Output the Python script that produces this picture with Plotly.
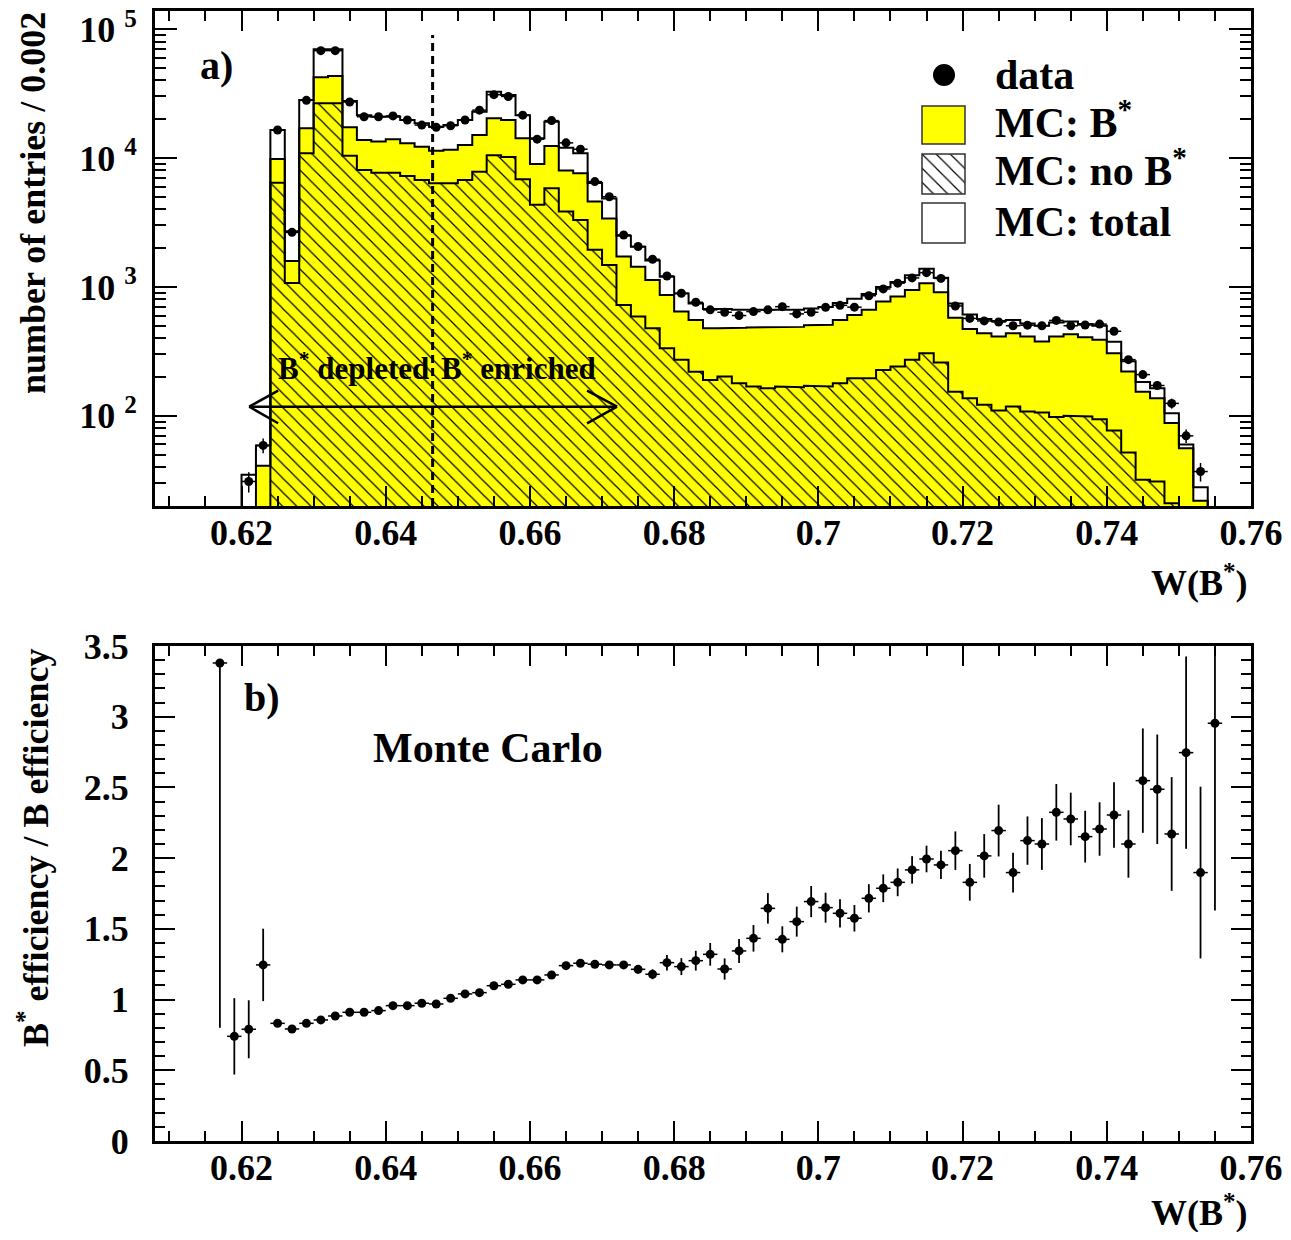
import numpy as np
import plotly.graph_objects as go

W, H = 1291, 1240
OFF = 8                      # default page margin of the html body
FW, FH = W - 2 * OFF, H - 2 * OFF

# ---------------- top panel data (bins of width 0.002 starting at 0.620) ----------------
bin_lo = 0.620
bin_w = 0.002

data_counts = [31, 59, 16500, 2650, 28000, 68000, 68000, 27200, 20900, 20900,
               21200, 19700, 18000, 17300, 17800, 19700, 23500, 31000, 30000, 21500,
               14000, 19500, 13100, 11700, 6560, 5010, 2530, 2060, 1640, 1215,
               893, 760, 664, 636, 600, 644, 664, 703, 618, 636,
               695, 720, 697, 855, 965, 1070, 1175, 1290, 1165, 712,
               570, 545, 535, 500, 505, 500, 550, 500, 507, 515,
               453, 273, 209, 172, 125, 70, 37]

mc_total = [35, 59, 16500, 2700, 28200, 69700, 69700, 27700, 21500, 20900,
            21000, 19700, 18600, 17500, 18000, 19700, 22800, 32700, 30800, 21500,
            14200, 19100, 12000, 10900, 6400, 4850, 2490, 2050, 1600, 1200,
            890, 745, 675, 675, 665, 665, 660, 665, 665, 680,
            700, 750, 810, 880, 1000, 1090, 1230, 1385, 1180, 745,
            610, 565, 545, 555, 520, 500, 530, 540, 515, 500,
            375, 265, 183, 164, 105, 60, 28]

mc_bstar = [15, 41, 9800, 1590, 17000, 42300, 43300, 17300, 13800, 13400,
            14000, 13000, 12200, 11400, 11600, 12600, 15100, 20300, 19700, 14200,
            9000, 12400, 8000, 7600, 4590, 3400, 1720, 1435, 1130, 867,
            644, 555, 478, 478, 482, 485, 487, 487, 490, 505,
            508, 554, 607, 664, 770, 842, 948, 1067, 910, 578,
            472, 437, 412, 437, 412, 377, 412, 430, 407, 389,
            306, 221, 154, 137, 88, 56, 22]

mc_nobstar = [18, 18, 6440, 1075, 10900, 26600, 26600, 10400, 8070, 7690,
              7700, 7250, 6760, 6370, 6370, 6760, 7830, 10500, 10200, 6840,
              4330, 5820, 3840, 3300, 1940, 1480, 725, 589, 479, 335,
              272, 220, 190, 202, 179, 169, 164, 169, 167, 171,
              169, 179, 196, 196, 227, 241, 272, 306, 259, 154,
              137, 122, 110, 118, 108, 106, 98, 100, 99, 94,
              77, 52, 32, 31, 21, 12, 5]

# ---------------- bottom panel data (points every 0.002 starting at 0.617) ----------------
ratio_x0 = 0.617
ratio = [3.38, 0.74, 0.79, 1.245, 0.832, 0.792, 0.832, 0.856, 0.884, 0.91,
         0.91, 0.922, 0.957, 0.957, 0.974, 0.969, 1.009, 1.04, 1.049, 1.098,
         1.108, 1.139, 1.139, 1.174, 1.24, 1.257, 1.25, 1.245, 1.245, 1.214,
         1.179, 1.261, 1.233, 1.275, 1.32, 1.216, 1.344, 1.433, 1.645, 1.426,
         1.551, 1.693, 1.65, 1.61, 1.575, 1.716, 1.787, 1.829, 1.917, 1.994,
         1.952, 2.053, 1.829, 2.016, 2.195, 1.898, 2.124, 2.1, 2.324, 2.277,
         2.152, 2.206, 2.305, 2.1, 2.548, 2.487, 2.171, 2.746, 1.898, 2.954]
ratio_err_up = [0.0, 0.27, 0.205, 0.256, 0.015, 0.012, 0.011, 0.011, 0.011, 0.011,
                0.011, 0.011, 0.011, 0.011, 0.012, 0.012, 0.012, 0.013, 0.013, 0.013,
                0.014, 0.015, 0.016, 0.016, 0.018, 0.018, 0.02, 0.022, 0.025, 0.03,
                0.035, 0.055, 0.06, 0.07, 0.08, 0.075, 0.085, 0.094, 0.108, 0.092,
                0.106, 0.11, 0.106, 0.1, 0.094, 0.1, 0.098, 0.098, 0.097, 0.094,
                0.1, 0.136, 0.13, 0.154, 0.183, 0.141, 0.171, 0.183, 0.2, 0.186,
                0.183, 0.189, 0.231, 0.238, 0.369, 0.387, 0.402, 0.68, 0.607, 1.325]
ratio_err_dn = [2.58] + ratio_err_up[1:]

x_tick_vals = [0.62, 0.64, 0.66, 0.68, 0.70, 0.72, 0.74, 0.76]
x_tick_text = ["0.62", "0.64", "0.66", "0.68", "0.7", "0.72", "0.74", "0.76"]
y_log_vals = [100, 1000, 10000, 100000]
y_log_text = ["10 <sup>2</sup>", "10 <sup>3</sup>", "10 <sup>4</sup>", "10 <sup>5</sup>"]
cut_value = 0.6465

# ---------------- derived geometry ----------------
nb = len(data_counts)
edges = np.round(bin_lo + bin_w * np.arange(nb + 1), 4)
centers = np.round(edges[:-1] + bin_w / 2, 4)
rx = np.round(ratio_x0 + bin_w * np.arange(len(ratio)), 4)

FONT = "Liberation Serif"


def step_xy(vals, floor=1.0):
    xs, ys = [edges[0]], [floor]
    for i, v in enumerate(vals):
        xs += [edges[i], edges[i + 1]]
        ys += [v, v]
    xs.append(edges[-1])
    ys.append(floor)
    return xs, ys


fig = go.Figure()

hatch = dict(shape="\\", fgcolor="black", bgcolor="rgba(0,0,0,0)", size=10, solidity=0.12,
             fillmode="replace")

# yellow B* fill
fig.add_trace(go.Bar(x=centers, y=mc_bstar, width=bin_w, xaxis="x", yaxis="y",
                     marker=dict(color="#ffff00", line=dict(width=0)), showlegend=False))
# hatched no-B* fill
fig.add_trace(go.Bar(x=centers, y=mc_nobstar, width=bin_w, xaxis="x", yaxis="y",
                     marker=dict(color="rgba(0,0,0,0)", line=dict(width=0), pattern=hatch),
                     showlegend=False))
# outlines
for vals in (mc_total, mc_bstar, mc_nobstar):
    sx, sy = step_xy(vals)
    fig.add_trace(go.Scatter(x=sx, y=sy, mode="lines", xaxis="x", yaxis="y",
                             line=dict(color="black", width=2), showlegend=False, hoverinfo="skip"))
# data points
fig.add_trace(go.Scatter(x=centers, y=data_counts, mode="markers", xaxis="x", yaxis="y",
                         marker=dict(color="black", size=9),
                         error_x=dict(type="constant", value=bin_w / 2, width=0, thickness=1.5, color="black"),
                         error_y=dict(type="data", array=np.sqrt(np.array(data_counts, float)),
                                      width=0, thickness=1.5, color="black"),
                         showlegend=False))

# ratio points
fig.add_trace(go.Scatter(x=rx, y=ratio, mode="markers", xaxis="x2", yaxis="y2",
                         marker=dict(color="black", size=9),
                         error_x=dict(type="constant", value=bin_w / 2, width=0, thickness=1.5, color="black"),
                         error_y=dict(type="data", symmetric=False, array=ratio_err_up,
                                      arrayminus=ratio_err_dn, width=0, thickness=1.8, color="black"),
                         showlegend=False))

# hatched legend swatch (own small axes)
fig.add_trace(go.Bar(x=[0.5], y=[1], width=1, base=0, xaxis="x3", yaxis="y3",
                     marker=dict(color="rgba(0,0,0,0)", line=dict(width=0), pattern=hatch),
                     showlegend=False))


def px(x):
    return (x - OFF) / FW


def py(y):
    return 1 - (y - OFF) / FH


top_dom = [py(506), py(11)]
bot_dom = [py(1141), py(646)]
x_dom = [px(155), px(1251)]

axis_common = dict(showline=True, linewidth=3, linecolor="black", mirror="ticks",
                   ticks="inside", tickwidth=2, tickcolor="black", showgrid=False, zeroline=False,
                   automargin=False, ticklabeloverflow="allow",
                   tickfont=dict(family=FONT, size=36, color="black", weight="bold"))

xa = dict(axis_common, range=[0.608, 0.76], domain=x_dom, tickmode="array",
          tickvals=x_tick_vals, ticktext=x_tick_text, ticklen=20, ticklabelstandoff=-7,
          minor=dict(tickmode="linear", tick0=0.6, dtick=0.005, ticks="inside", ticklen=10,
                     tickwidth=2, tickcolor="black"))

fig.update_layout(
    width=FW, height=FH,
    margin=dict(l=0, r=0, t=0, b=0, autoexpand=False),
    paper_bgcolor="white", plot_bgcolor="white",
    barmode="overlay", bargap=0,
    font=dict(family=FONT, size=36, color="black", weight="bold"),
    xaxis=dict(xa, anchor="y"),
    yaxis=dict(axis_common, type="log", range=[np.log10(20), 5.14], domain=top_dom, anchor="x",
               tickmode="array", tickvals=y_log_vals, ticktext=y_log_text, ticklen=22,
               ticklabelstandoff=8,
               minor=dict(dtick="D1", ticks="inside", ticklen=11, tickwidth=2, tickcolor="black")),
    xaxis2=dict(xa, anchor="y2"),
    yaxis2=dict(axis_common, range=[0, 3.5], domain=bot_dom, anchor="x2", tickmode="linear",
                tick0=0, dtick=0.5, ticklen=20, ticklabelstandoff=16,
                minor=dict(tickmode="linear", tick0=0, dtick=0.1, ticks="inside", ticklen=10,
                           tickwidth=2, tickcolor="black")),
    xaxis3=dict(domain=[px(922), px(965)], range=[0, 1], visible=False, anchor="y3"),
    yaxis3=dict(domain=[py(194), py(154)], range=[0, 1], visible=False, anchor="x3"),
)

shapes = []
# cut line
shapes.append(dict(type="line", xref="x", yref="y domain", x0=cut_value, x1=cut_value,
                   y0=0, y1=0.9515, line=dict(color="black", width=3, dash="8px,5px")))
# double arrow
ya, yu, yd = 0.2006, 0.2329, 0.1671
xl, xl2, xr, xr2 = 0.62106, 0.62508, 0.67208, 0.66792
for (x0, y0, x1, y1) in [(xl, ya, xr, ya), (xl, ya, xl2, yu), (xl, ya, xl2, yd),
                         (xr, ya, xr2, yu), (xr, ya, xr2, yd)]:
    shapes.append(dict(type="line", xref="x", yref="y domain", x0=x0, y0=y0, x1=x1, y1=y1,
                       line=dict(color="black", width=2.5)))
# legend symbols
shapes.append(dict(type="circle", xref="paper", yref="paper", x0=px(933), x1=px(955),
                   y0=py(86), y1=py(64), fillcolor="black", line=dict(width=0)))
shapes.append(dict(type="rect", xref="paper", yref="paper", x0=px(922), x1=px(965),
                   y0=py(144), y1=py(106), fillcolor="#ffff00", line=dict(color="#333", width=1.5)))
shapes.append(dict(type="rect", xref="paper", yref="paper", x0=px(922), x1=px(965),
                   y0=py(194), y1=py(154), fillcolor="rgba(0,0,0,0)", line=dict(color="#333", width=1.5)))
shapes.append(dict(type="rect", xref="paper", yref="paper", x0=px(922), x1=px(965),
                   y0=py(243), y1=py(203), fillcolor="white", line=dict(color="#333", width=1.5)))
fig.update_layout(shapes=shapes)


def ann(text, x, y, size, xanchor="left", yanchor="middle", angle=0):
    return dict(text=text, x=px(x), y=py(y), xref="paper", yref="paper", showarrow=False,
                xanchor=xanchor, yanchor=yanchor, textangle=angle,
                font=dict(family=FONT, size=size, color="black", weight="bold"))


annotations = [
    ann("a)", 216, 65, 40, xanchor="center"),
    ann("b)", 262, 697, 40, xanchor="center"),
    ann("Monte Carlo", 488, 748, 42, xanchor="center"),
    ann("data", 993, 75, 42),
    ann("MC: B<sup>*</sup>", 993, 119, 42),
    ann("MC: no B<sup>*</sup>", 993, 168, 42),
    ann("MC: total", 993, 222, 42),
    ann("B<sup>*</sup> depleted", 276, 366, 31),
    ann("B<sup>*</sup> enriched", 439, 366, 31),
    ann("number of entries / 0.002", 33, 203, 36, xanchor="center", angle=-90),
    ann("B<sup>*</sup> efficiency / B efficiency", 33, 848, 36, xanchor="center", angle=-90),
    ann("W(B<sup>*</sup>)", 1250, 580, 36, xanchor="right"),
    ann("W(B<sup>*</sup>)", 1250, 1210, 36, xanchor="right"),
]
fig.update_layout(annotations=annotations)

fig.write_html("out.html")
